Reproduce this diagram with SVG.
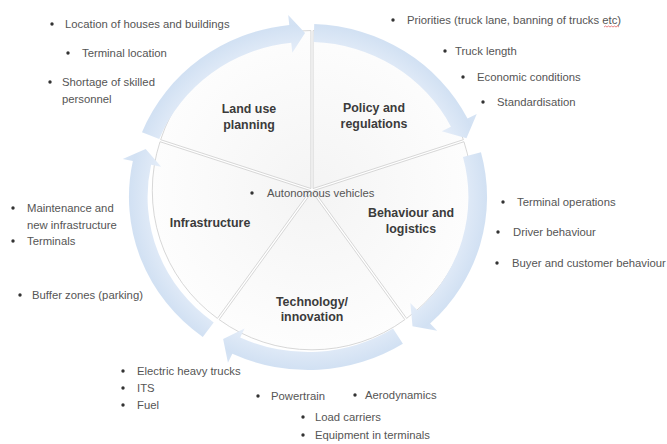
<svg xmlns="http://www.w3.org/2000/svg" width="667" height="444" viewBox="0 0 667 444">
<style>
.wedge{fill:url(#wg);stroke:#cdcdcd;stroke-width:0.8}
.arrow{fill:url(#ag);stroke:none}
.lbl{font-family:"Liberation Sans",Arial,sans-serif;font-weight:bold;font-size:12.4px;fill:#3b3b3b;text-anchor:middle}
.note{font-family:"Liberation Sans",Arial,sans-serif;font-size:11.3px;fill:#555}
.dot{fill:#333}
</style>
<defs>
<radialGradient id="wg" gradientUnits="userSpaceOnUse" cx="312" cy="190" r="160">
<stop offset="0" stop-color="#f4f4f4"/>
<stop offset="1" stop-color="#fdfdfd"/>
</radialGradient>
<radialGradient id="ag" gradientUnits="userSpaceOnUse" cx="0" cy="0" r="185">
<stop offset="0.78" stop-color="#e6eef9"/>
<stop offset="0.93" stop-color="#d2e1f3"/>
<stop offset="1" stop-color="#d8e5f5"/>
</radialGradient>
</defs>
<rect width="667" height="444" fill="#fff"/>
<g id="land-use">
<path class="wedge" d="M310.94 188.54 L160.67 139.71 A158 158 0 0 1 310.94 30.54 Z"/>
<text class="lbl" x="249" y="113">Land use</text>
<text class="lbl" x="249" y="129">planning</text>
</g>
<g id="policy">
<path class="wedge" d="M313.06 188.54 L313.06 30.54 A158 158 0 0 1 463.33 139.71 Z"/>
<text class="lbl" x="374" y="112">Policy and</text>
<text class="lbl" x="374" y="128">regulations</text>
</g>
<g id="behaviour">
<path class="wedge" d="M313.71 190.56 L463.98 141.73 A158 158 0 0 1 406.58 318.39 Z"/>
<text class="lbl" x="411" y="217">Behaviour and</text>
<text class="lbl" x="411" y="233">logistics</text>
</g>
<g id="technology">
<path class="wedge" d="M312 191.8 L404.87 319.63 A158 158 0 0 1 219.13 319.63 Z"/>
<text class="lbl" x="312" y="306">Technology/</text>
<text class="lbl" x="312" y="321">innovation</text>
</g>
<g id="infrastructure">
<path class="wedge" d="M310.29 190.56 L217.42 318.39 A158 158 0 0 1 160.02 141.73 Z"/>
<text class="lbl" x="210" y="227">Infrastructure</text>
</g>
<g id="connectors" transform="translate(308,197) scale(1.035,1)">
<path class="arrow" d="M-160.40 -64.81 A173 173 0 0 1 -18.08 -172.05 L-19.13 -182.00 L-2.86 -163.98 L-15.16 -144.21 L-16.20 -154.15 A155 155 0 0 0 -143.71 -58.06 Z"/>
<path class="arrow" d="M6.04 -172.89 A173 173 0 0 1 154.14 -78.54 L163.05 -83.08 L153.11 -58.77 L129.20 -65.83 L138.11 -70.37 A155 155 0 0 0 5.41 -154.91 Z"/>
<path class="arrow" d="M167.11 -44.78 A173 173 0 0 1 117.99 126.52 L124.81 133.84 L100.97 129.23 L98.89 106.05 L105.71 113.36 A155 155 0 0 0 149.72 -40.12 Z"/>
<path class="arrow" d="M91.68 146.71 A173 173 0 0 1 -73.11 156.79 L-77.34 165.85 L-82.00 142.03 L-61.28 131.41 L-65.51 140.48 A155 155 0 0 0 82.14 131.45 Z"/>
<path class="arrow" d="M-101.69 139.96 A173 173 0 0 1 -169.22 -35.97 L-179.00 -38.05 L-156.83 -47.95 L-141.83 -30.15 L-151.61 -32.23 A155 155 0 0 0 -91.11 125.40 Z"/>
</g>
<g id="notes-land-use">
<circle class="dot" cx="52" cy="24" r="1.7"/><text class="note" x="65" y="28">Location of houses and buildings</text>
<circle class="dot" cx="68" cy="53" r="1.7"/><text class="note" x="82" y="57">Terminal location</text>
<circle class="dot" cx="50" cy="82" r="1.7"/><text class="note" x="62" y="86">Shortage of skilled</text>
<text class="note" x="62" y="103">personnel</text>
</g>
<g id="notes-policy">
<circle class="dot" cx="393" cy="20" r="1.7"/><text class="note" x="407" y="24">Priorities (truck lane, banning of trucks etc)</text>
<path d="M604 27 l1.5 -1 l1.5 1 l1.5 -1 l1.5 1 l1.5 -1 l1.5 1 l1.5 -1 l1.5 1 l1.5 -1 l1.5 1" fill="none" stroke="#e05050" stroke-width="0.7"/>
<circle class="dot" cx="445" cy="51" r="1.7"/><text class="note" x="455" y="55">Truck length</text>
<circle class="dot" cx="463" cy="77" r="1.7"/><text class="note" x="477" y="81">Economic conditions</text>
<circle class="dot" cx="483" cy="102" r="1.7"/><text class="note" x="497" y="106">Standardisation</text>
</g>
<g id="notes-center">
<circle class="dot" cx="252" cy="193" r="1.7"/><text class="note" x="267" y="197">Autonomous vehicles</text>
</g>
<g id="notes-infrastructure">
<circle class="dot" cx="13" cy="208" r="1.7"/><text class="note" x="27" y="212">Maintenance and</text>
<text class="note" x="27" y="229">new infrastructure</text>
<circle class="dot" cx="13" cy="241" r="1.7"/><text class="note" x="27" y="245">Terminals</text>
<circle class="dot" cx="20" cy="295" r="1.7"/><text class="note" x="32" y="299">Buffer zones (parking)</text>
</g>
<g id="notes-behaviour">
<circle class="dot" cx="503" cy="202" r="1.7"/><text class="note" x="517" y="206">Terminal operations</text>
<circle class="dot" cx="498" cy="232" r="1.7"/><text class="note" x="513" y="236">Driver behaviour</text>
<circle class="dot" cx="497" cy="263" r="1.7"/><text class="note" x="512" y="267">Buyer and customer behaviour</text>
</g>
<g id="notes-technology">
<circle class="dot" cx="123" cy="371" r="1.7"/><text class="note" x="137" y="375">Electric heavy trucks</text>
<circle class="dot" cx="123" cy="388" r="1.7"/><text class="note" x="137" y="392">ITS</text>
<circle class="dot" cx="123" cy="405" r="1.7"/><text class="note" x="137" y="409">Fuel</text>
<circle class="dot" cx="258" cy="396" r="1.7"/><text class="note" x="271" y="400">Powertrain</text>
<circle class="dot" cx="355" cy="395" r="1.7"/><text class="note" x="365" y="399">Aerodynamics</text>
<circle class="dot" cx="303" cy="417" r="1.7"/><text class="note" x="315" y="421">Load carriers</text>
<circle class="dot" cx="303" cy="435" r="1.7"/><text class="note" x="315" y="439">Equipment in terminals</text>
</g>
</svg>
